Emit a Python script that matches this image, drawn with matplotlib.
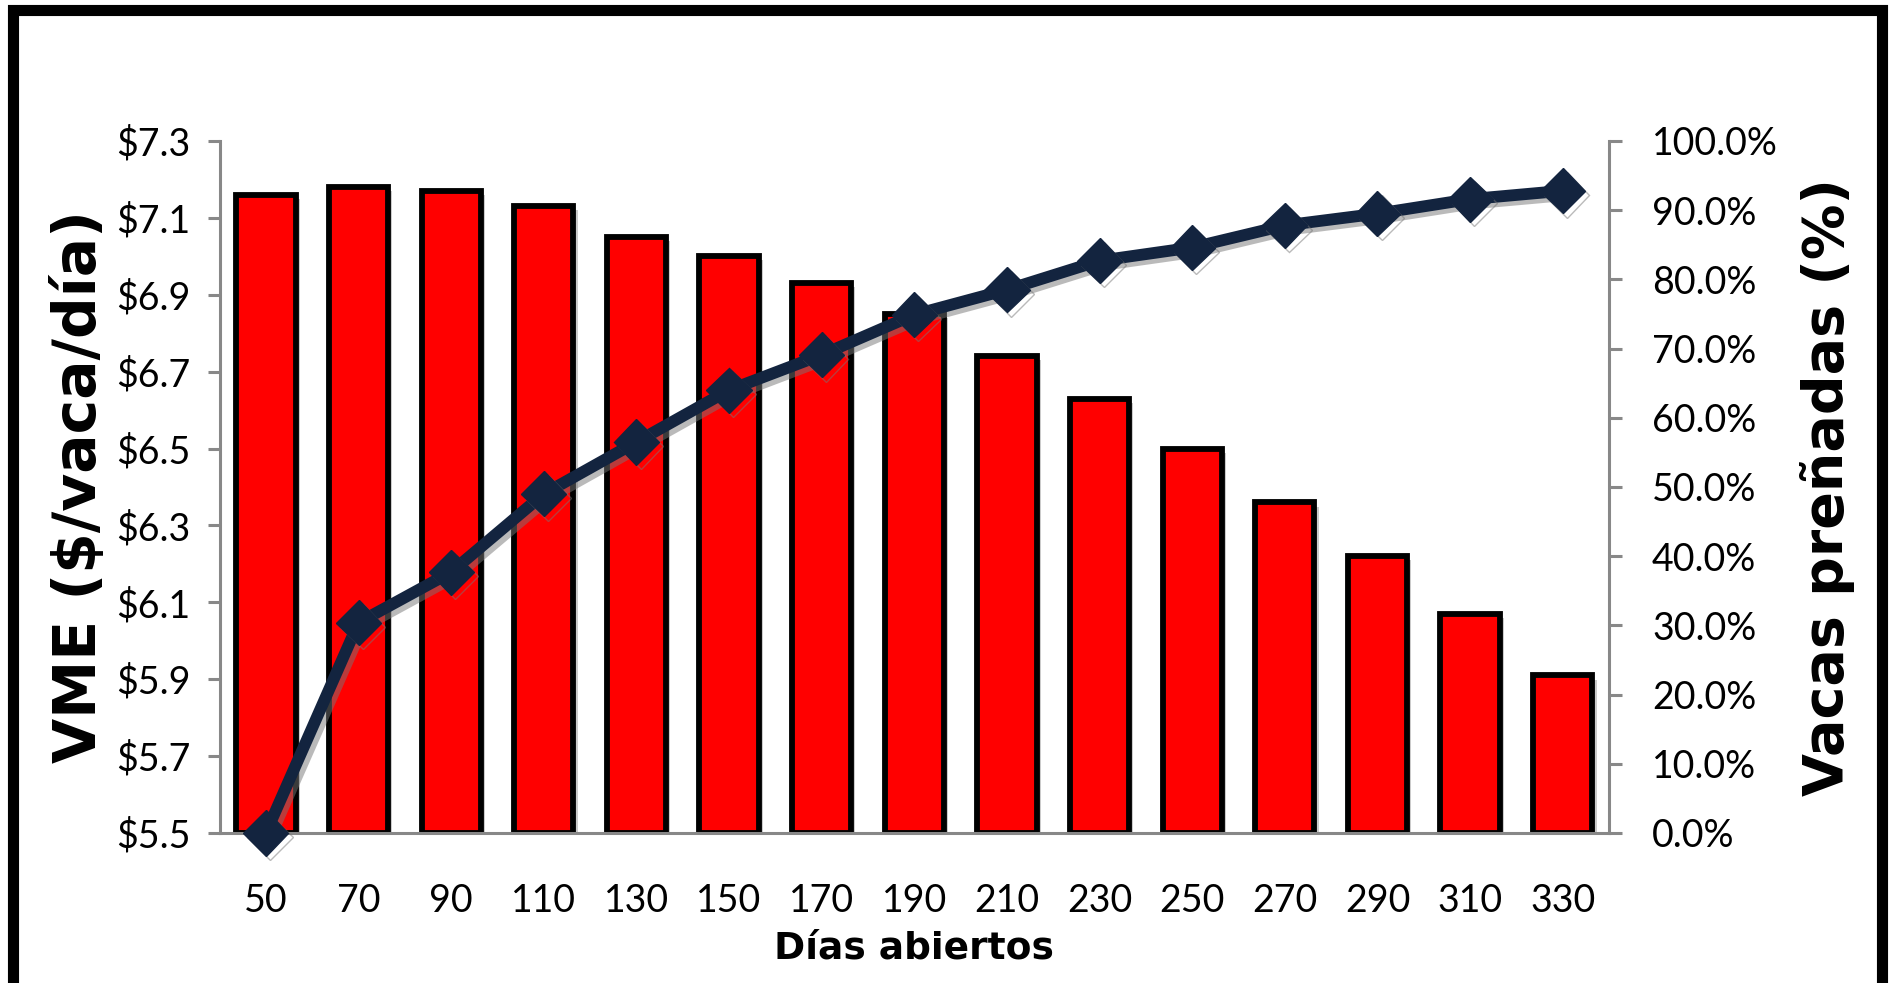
import matplotlib
matplotlib.use("Agg")
import matplotlib.pyplot as plt
import matplotlib.patheffects as pe
from matplotlib.patches import Rectangle
import numpy as np

dias = [50, 70, 90, 110, 130, 150, 170, 190, 210, 230, 250, 270, 290, 310, 330]
vme = [7.16, 7.18, 7.17, 7.13, 7.05, 7.00, 6.93, 6.85, 6.74, 6.63, 6.50, 6.36, 6.22, 6.07, 5.91]
prenadas = [0.0, 30.4, 37.7, 49.0, 56.5, 64.0, 69.1, 74.9, 78.5, 82.7, 84.6, 87.8, 89.5, 91.6, 92.8]
left_ticks = [5.5, 5.7, 5.9, 6.1, 6.3, 6.5, 6.7, 6.9, 7.1, 7.3]
right_ticks = [0, 10, 20, 30, 40, 50, 60, 70, 80, 90, 100]

tick_font = ['Lato', 'DejaVu Sans']
label_font = ['DejaVu Sans']

fig = plt.figure(figsize=(18.93, 9.83), dpi=100)
ax = fig.add_axes([0.116, 0.1526, 0.734, 0.704])
x = np.arange(len(dias))

shadow = [pe.SimplePatchShadow(offset=(3, -3), shadow_rgbFace='#999999', alpha=0.5), pe.Normal()]
bars = ax.bar(x, [v - 5.5 for v in vme], bottom=5.5, width=0.64, color='#FF0000',
              edgecolor='black', linewidth=4.2, zorder=2)
for b in bars:
    b.set_path_effects(shadow)

ax.set_xlim(-0.5, len(dias) - 0.5)
ax.set_ylim(5.5, 7.3)
ax.set_yticks(left_ticks)
ax.set_yticklabels([f"${t:.1f}" for t in left_ticks], family=tick_font, fontsize=27)
ax.set_xticks(x)
ax.set_xticklabels([str(d) for d in dias], family=tick_font, fontsize=27)
ax.tick_params(axis='x', length=0, pad=36)
ax.tick_params(axis='y', length=9, width=2.2, color='#888888', pad=12)
for s in ['top', 'right']:
    ax.spines[s].set_visible(False)
for s in ['left', 'bottom']:
    ax.spines[s].set_color('#888888')
    ax.spines[s].set_linewidth(2.2)
ax.set_xlabel("Días abiertos", family=label_font, fontweight='bold', fontsize=27, labelpad=8)
ax.set_ylabel("VME ($/vaca/día)", family=label_font, fontweight='bold', fontsize=42, labelpad=6)

ax2 = ax.twinx()
ax2.set_ylim(0, 100)
ax2.set_yticks(right_ticks)
ax2.set_yticklabels([f"{t:.1f}%" for t in right_ticks], family=tick_font, fontsize=27)
ax2.tick_params(axis='y', length=9, width=2.2, color='#888888', pad=22)
for s in ['top', 'left', 'bottom']:
    ax2.spines[s].set_visible(False)
ax2.spines['right'].set_color('#888888')
ax2.spines['right'].set_linewidth(2.2)
line, = ax2.plot(x, prenadas, color='#13243F', linewidth=8.5, marker='D', markersize=23,
                 clip_on=False, zorder=5)
line.set_path_effects([pe.SimpleLineShadow(offset=(3, -3), shadow_color='#777777', alpha=0.5), pe.Normal()])
ax2.set_ylabel("Vacas preñadas (%)", family=label_font, fontweight='bold', fontsize=40,
               labelpad=16)

fig.patches.append(Rectangle((0.007, -0.01), 0.987, 1.0, transform=fig.transFigure,
                             fill=False, edgecolor='black', linewidth=8))

fig.savefig("out.png", dpi=100)
